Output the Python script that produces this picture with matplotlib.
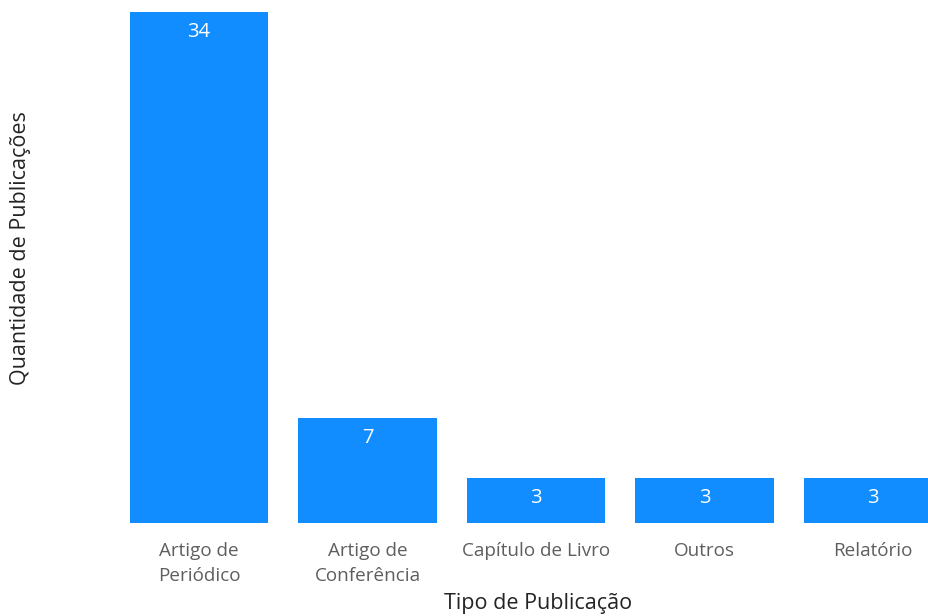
import matplotlib
matplotlib.use('Agg')
import matplotlib.pyplot as plt

# --- Data ---
categories = ['Artigo de\nPeriódico', 'Artigo de\nConferência', 'Capítulo de Livro', 'Outros', 'Relatório']
counts = [34, 7, 3, 3, 3]

BAR_COLOR = '#118DFF'
TICK_COLOR = '#605E5C'
TITLE_COLOR = '#252423'

plt.rcParams['font.family'] = ['Open Sans', 'DejaVu Sans']

fig = plt.figure(figsize=(9.29, 6.16), dpi=100)
ax = fig.add_axes([130 / 929, (616 - 523) / 616, 799 / 929, (523 - 12) / 616])

x = list(range(len(categories)))
bars = ax.bar(x, counts, width=0.82, color=BAR_COLOR)

ax.set_xlim(-0.41, 4.332)
ax.set_ylim(0, 34)

# value labels inside the top of each bar
for xi, v in zip(x, counts):
    ax.annotate(str(v), (xi, v), xytext=(0, -7), textcoords='offset points',
                ha='center', va='top', color='white', fontsize=14.5)

ax.set_xticks(x)
ax.set_xticklabels(categories, fontsize=13.6, color=TICK_COLOR, linespacing=1.5)
ax.tick_params(axis='x', length=0, pad=14)
ax.set_yticks([])

for s in ax.spines.values():
    s.set_visible(False)

fig.text(538 / 929, 1 - 603 / 616, 'Tipo de Publicação', ha='center', va='center',
         fontsize=15.5, color=TITLE_COLOR)
fig.text(21 / 929, 1 - 248 / 616, 'Quantidade de Publicações', ha='center', va='center',
         rotation=90, fontsize=15.5, color=TITLE_COLOR)

fig.savefig('out.png', dpi=100)
